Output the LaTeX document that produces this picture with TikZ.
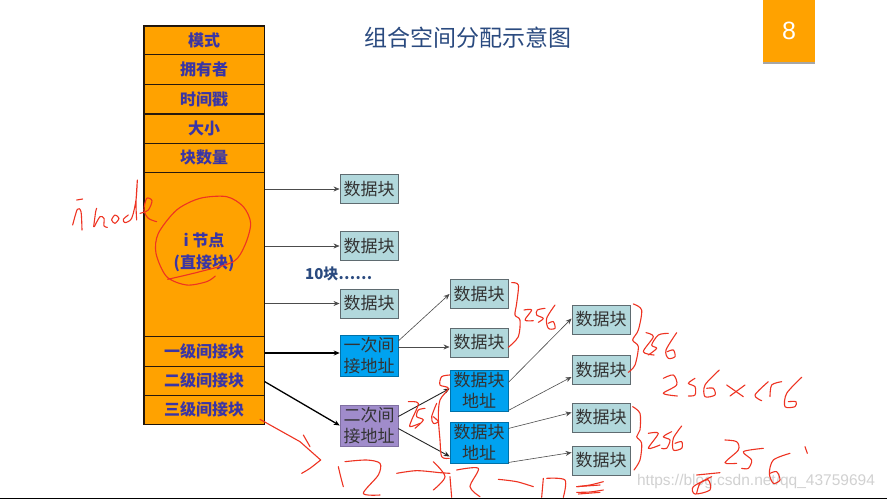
\documentclass[tikz,border=0pt]{standalone}
\usepackage{fontspec}
\setmainfont{Noto Sans CJK SC}
\newfontfamily\latinsans{Liberation Sans}
\definecolor{rowfill}{HTML}{FFA200}
\definecolor{rowtext}{HTML}{3A35A5}
\definecolor{datafill}{HTML}{B2D8DC}
\definecolor{addrfill}{HTML}{00A2F0}
\definecolor{purplefill}{HTML}{A08CCB}
\definecolor{titleblue}{HTML}{2A4A7F}
\definecolor{penred}{HTML}{EE3322}
\definecolor{boxedge}{HTML}{5F6B70}
\tikzset{
  rowbox/.style={draw=black!80!brown,line width=1pt,fill=rowfill,minimum width=120pt,inner sep=0pt,text=rowtext,font=\fontsize{16}{20}\selectfont\bfseries,align=center},
  blockbox/.style={draw=boxedge,line width=.9pt,fill=datafill,minimum width=58pt,minimum height=29pt,inner sep=0pt,text=black!80,font=\fontsize{17}{20}\selectfont},
  addrbox/.style={fill=addrfill,minimum width=58pt,minimum height=41pt,inner sep=0pt,text=black!80,font=\fontsize{17}{21}\selectfont,align=center,draw=addrfill!70!black,line width=.5pt},
  thinlink/.style={draw=black!70,line width=.6pt,-{Stealth[length=6pt,width=5pt]}},
  thicklink/.style={draw=black,line width=1.3pt,-{Stealth[length=6pt,width=5pt]}},
  midlink/.style={draw=black!85,line width=.9pt,-{Stealth[length=6pt,width=5pt]}},
  pen/.style={draw=penred,line width=1.1pt,line cap=round,line join=round},
}
\usetikzlibrary{arrows.meta}
\begin{document}
\begin{tikzpicture}[x=1pt,y=-1pt]
\useasboundingbox (0,0) rectangle (887,499);
\fill[white] (0,0) rectangle (887,499);
\fill[black] (0,497.5) rectangle (887,499);
% page furniture
\fill[black!35] (763,60) rectangle (815,63.5);
\node[fill=rowfill,minimum width=52pt,minimum height=62pt,inner sep=0pt,text=white,font=\latinsans\fontsize{25}{28}\selectfont] (tab) at (789,31) {\raisebox{-3pt}{8}};
\node[text=titleblue,font=\fontsize{23}{26}\selectfont,inner sep=0pt] (title) at (468,38) {组合空间分配示意图};
% inode table
\node[rowbox,minimum height=29pt] (r1) at (204,40.5) {模式};
\node[rowbox,minimum height=29.5pt] (r2) at (204,69.7) {拥有者};
\node[rowbox,minimum height=29.5pt] (r3) at (204,99.2) {时间戳};
\node[rowbox,minimum height=29pt] (r4) at (204,128.5) {大小};
\node[rowbox,minimum height=29pt] (r5) at (204,157.5) {块数量};
\node[rowbox,minimum height=164pt] (r6) at (204,254) {\raisebox{6pt}{\shortstack{i 节点\\[4pt](直接块)}}};
\node[rowbox,minimum height=30pt] (r7) at (204,351) {一级间接块};
\node[rowbox,minimum height=29pt] (r8) at (204,380.5) {二级间接块};
\node[rowbox,minimum height=29pt] (r9) at (204,409.5) {三级间接块};
\draw[black!85!brown,line width=1.6pt] (r1.north west) -- (r1.north east) -- (r9.south east) -- (r9.south west) -- cycle;
% blocks
\node[blockbox] (d1) at (369,189) {数据块};
\node[blockbox] (d2) at (369,246) {数据块};
\node[blockbox] (d3) at (369,303.5) {数据块};
\node[text=titleblue,font=\fontsize{15}{18}\selectfont\bfseries,inner sep=0pt,anchor=west] (ten) at (305,273.5) {10块……};
\node[addrbox] (b1) at (369,356) {一次间\\接地址};
\node[addrbox,fill=purplefill,draw=purplefill!80!black,minimum height=41pt] (b2) at (369,425.5) {二次间\\接地址};
\node[blockbox] (m1) at (479,294) {数据块};
\node[blockbox] (m2) at (479,342.5) {数据块};
\node[addrbox] (a1) at (479,390.5) {数据块\\地址};
\node[addrbox] (a2) at (479,442.5) {数据块\\地址};
\node[blockbox] (e1) at (601,319.5) {数据块};
\node[blockbox] (e2) at (601,370) {数据块};
\node[blockbox] (e3) at (601,417.5) {数据块};
\node[blockbox] (e4) at (601,460.5) {数据块};
% connectors
\draw[thinlink] (r6.east |- d1.west) -- (d1.west);
\draw[thinlink] (r6.east |- d2.west) -- (d2.west);
\draw[thinlink] (r6.east |- d3.west) -- (d3.west);
\draw[thicklink] ([yshift=-2pt]r7.east) -- ([yshift=3pt]b1.west);
\draw[thicklink] ([yshift=-1pt]r8.east) -- (b2.west);
\draw[thinlink] ([yshift=15pt]b1.east) -- (m1.west);
\draw[thinlink] ([yshift=9pt]b1.east) -- ([yshift=-4.5pt]m2.west);
\draw[midlink] ([yshift=9pt]b2.east) -- ([yshift=2pt]a1.west);
\draw[midlink] ([yshift=-3pt]b2.east) -- ([yshift=-14pt]a2.west);
\draw[thinlink] ([yshift=8pt]a1.east) -- ([yshift=1pt]e1.west);
\draw[thinlink] ([yshift=-20pt]a1.east) -- ([yshift=-7pt]e2.west);
\draw[thinlink] ([yshift=14pt]a2.east) -- ([yshift=5pt]e3.west);
\draw[thinlink] ([yshift=-20pt]a2.east) -- ([yshift=8pt]e4.west);
% watermark
\node[text=black!18,font=\latinsans\fontsize{15.5}{18}\selectfont,inner sep=0pt] (wm) at (756,481) {https://blog.csdn.net/qq\_43759694};
% handwriting, coordinates read off the first crop
\begin{scope}[shift={(0,170)},scale=1/3]
\draw[pen] plot[smooth] coordinates {(218,165)(232,118)(243,125)(246,180)};
\draw[pen] (230,90)--(248,87);
\draw[pen] plot[smooth] coordinates {(281,170)(287,125)(290,115)};
\draw[pen] plot[smooth] coordinates {(283,170)(300,140)(312,145)(312,168)(322,172)};
\draw[pen] plot[smooth cycle] coordinates {(335,150)(345,135)(357,145)(345,160)};
\draw[pen] plot[smooth] coordinates {(385,135)(370,148)(375,158)(395,145)(408,90)(412,30)(408,100)(410,150)};
\draw[pen] plot[smooth] coordinates {(420,130)(445,120)(456,92)(440,85)(432,120)(445,145)(470,155)};
\draw[pen] plot[smooth] coordinates {(503,328)(600,305)(700,275)(735,225)(752,160)(730,110)(680,80)(600,85)(530,120)(475,190)(468,250)(500,320)(560,345)(620,335)(646,318)};
\draw[pen] (780,748)--(900,815);
\end{scope}
% handwriting, second crop
\begin{scope}[shift={(300,260)},scale=1/3]
\draw[pen] plot[smooth] coordinates {(635,68)(655,75)(650,130)(645,165)(660,180)(655,230)(625,262)};
\draw[pen] plot[smooth] coordinates {(672,150)(695,150)(675,180)(700,182)};
\draw[pen] plot[smooth] coordinates {(735,145)(712,150)(710,165)(730,175)(715,187)};
\draw[pen] plot[smooth] coordinates {(765,135)(740,175)(745,205)(765,205)(760,185)(745,190)};
\draw[pen] plot[smooth] coordinates {(450,345)(425,350)(420,375)(445,385)(420,420)(415,470)(420,540)(425,590)(448,595)};
\draw[pen] plot[smooth] coordinates {(325,425)(355,430)(335,480)(330,500)(360,490)};
\draw[pen] plot[smooth] coordinates {(375,445)(355,450)(350,470)(370,480)(345,505)};
\draw[pen] plot[smooth] coordinates {(410,430)(395,470)(400,490)(415,485)(400,470)};
\draw[pen] (0,545)--(62,600);
\draw[pen] (10,525)--(30,560);
\draw[pen] plot[smooth] coordinates {(62,600)(30,625)(5,640)};
\draw[pen] plot[smooth] coordinates {(115,620)(122,650)(130,680)};
\draw[pen] plot[smooth] coordinates {(135,605)(200,600)(240,610)(235,645)(190,700)(240,705)};
\draw[pen] plot[smooth] coordinates {(290,640)(350,632)(420,638)(450,640)};
\draw[pen] plot[smooth] coordinates {(400,605)(435,650)(400,690)};
\draw[pen] plot[smooth] coordinates {(450,650)(455,712)};
\draw[pen] plot[smooth] coordinates {(470,630)(535,625)(510,680)(540,710)};
\draw[pen] plot[smooth] coordinates {(595,658)(650,665)(700,680)};
\draw[pen] plot[smooth] coordinates {(730,655)(725,712)};
\draw[pen] plot[smooth] coordinates {(740,655)(795,660)(790,712)};
\draw[pen] plot[smooth] coordinates {(830,680)(900,675)};
\draw[pen] plot[smooth] coordinates {(835,702)(900,697)};
\end{scope}
% handwriting, third crop
\begin{scope}[shift={(560,290)},scale=1/3]
\draw[pen] plot[smooth] coordinates {(220,42)(245,60)(235,120)(218,150)(235,170)(225,225)(205,247)};
\draw[pen] plot[smooth] coordinates {(258,128)(280,140)(250,185)(282,195)};
\draw[pen] plot[smooth] coordinates {(325,130)(295,135)(275,165)(290,175)(265,195)};
\draw[pen] plot[smooth] coordinates {(350,128)(318,180)(325,205)(345,200)(340,180)(322,185)};
\draw[pen] plot[smooth] coordinates {(310,265)(340,255)(350,285)(310,310)(352,318)};
\draw[pen] plot[smooth] coordinates {(405,265)(385,280)(405,290)(405,315)(385,318)};
\draw[pen] plot[smooth] coordinates {(478,240)(435,285)(435,320)(465,315)(460,295)(440,295)};
\draw[pen] (500,285)--(550,320);
\draw[pen] (555,285)--(510,318);
\draw[pen] plot[smooth] coordinates {(625,275)(585,315)(605,332)};
\draw[pen] plot[smooth] coordinates {(665,275)(635,285)(630,320)};
\draw[pen] plot[smooth] coordinates {(725,262)(680,310)(675,350)(705,350)(708,335)(685,335)};
\draw[pen] plot[smooth] coordinates {(218,350)(240,370)(240,420)(230,440)(245,460)(240,510)(222,540)};
\draw[pen] plot[smooth] coordinates {(265,430)(295,430)(265,475)(300,465)};
\draw[pen] plot[smooth] coordinates {(335,425)(310,440)(330,450)(320,475)(305,475)};
\draw[pen] plot[smooth] coordinates {(365,408)(340,445)(340,480)(365,475)(365,455)(345,460)};
\draw[pen] plot[smooth] coordinates {(495,450)(530,455)(535,480)(495,518)(530,520)};
\draw[pen] plot[smooth] coordinates {(610,475)(550,485)(575,510)(565,535)(545,535)};
\draw[pen] plot[smooth] coordinates {(690,490)(640,510)(628,550)(640,580)(660,570)(650,545)(630,550)};
\draw[pen] (735,470)--(742,490);
\draw[pen] (480,548)--(410,555);
\draw[pen] plot[smooth] coordinates {(455,560)(400,590)(405,612)(450,600)(445,570)(420,580)(410,610)};
\draw[pen] plot[smooth] coordinates {(50,590)(90,585)(130,575)};
\draw[pen] plot[smooth] coordinates {(50,607)(90,606)(130,600)};
\end{scope}
\end{tikzpicture}
\end{document}
